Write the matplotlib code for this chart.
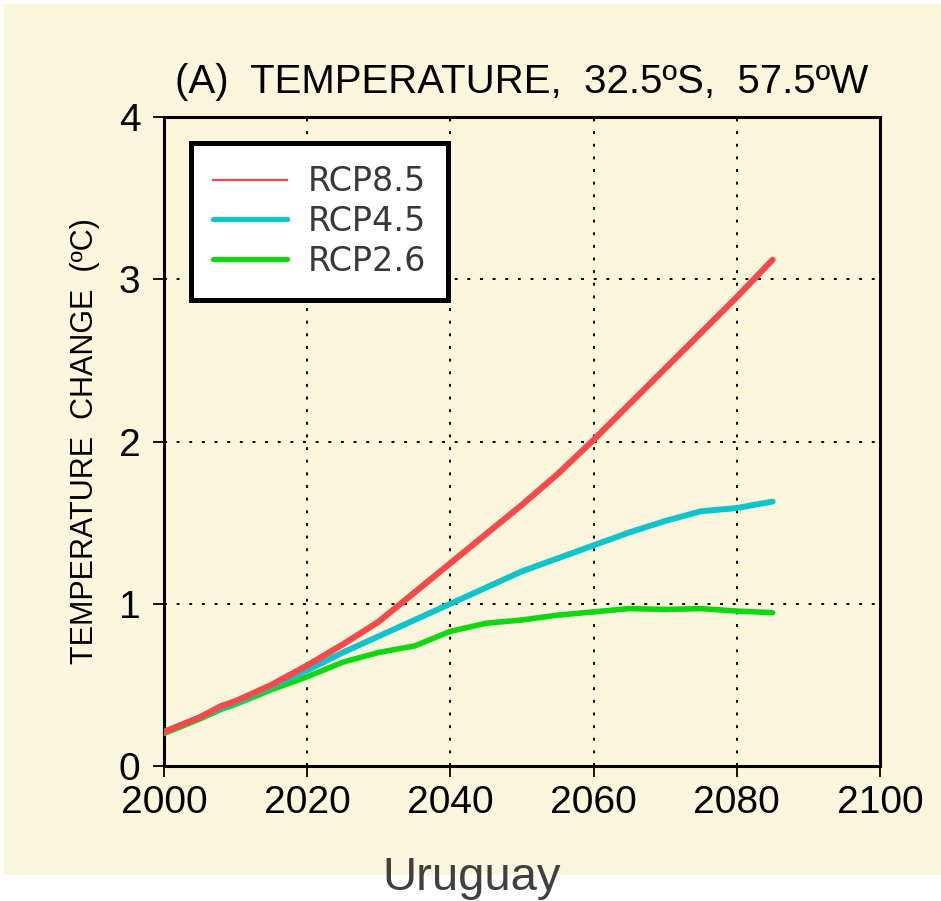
import matplotlib
matplotlib.use("Agg")
import matplotlib.pyplot as plt
from matplotlib.lines import Line2D
from matplotlib.patches import Rectangle

# ---------------- data ----------------
years = [2000, 2005, 2008, 2010, 2015, 2020, 2025, 2030, 2035, 2040,
         2045, 2050, 2055, 2060, 2065, 2070, 2075, 2080, 2085]
rcp85 = [0.21, 0.30, 0.37, 0.40, 0.50, 0.62, 0.75, 0.89, 1.07, 1.25,
         1.43, 1.61, 1.80, 2.01, 2.23, 2.45, 2.67, 2.89, 3.12]
rcp45 = [0.21, 0.30, 0.36, 0.39, 0.49, 0.59, 0.70, 0.80, 0.90, 1.00,
         1.10, 1.20, 1.28, 1.36, 1.44, 1.51, 1.57, 1.59, 1.63]
rcp26 = [0.20, 0.29, 0.35, 0.38, 0.47, 0.55, 0.64, 0.70, 0.74, 0.83,
         0.88, 0.90, 0.93, 0.95, 0.97, 0.965, 0.97, 0.955, 0.945]
series_labels = ["RCP8.5", "RCP4.5", "RCP2.6"]
x_ticks = [2000, 2020, 2040, 2060, 2080, 2100]
y_ticks = [0, 1, 2, 3, 4]
title = "(A)  TEMPERATURE,  32.5ºS,  57.5ºW"
ylabel = "TEMPERATURE  CHANGE  (ºC)"
caption = "Uruguay"

# ---------------- style ----------------
CREAM = "#FCF7DC"
RED = "#F84848"
CYAN = "#10C4CC"
GREEN = "#10D810"
FONT = "Liberation Sans"

W, H = 941, 901
fig = plt.figure(figsize=(W / 100, H / 100), dpi=100, facecolor="white")

# cream background panel
bg = Rectangle((4 / W, 1 - 875 / H), (W - 4) / W, (875 - 4) / H,
               transform=fig.transFigure, facecolor=CREAM,
               edgecolor="none", zorder=-10)
fig.add_artist(bg)

ax = fig.add_axes([164 / W, 1 - 766 / H, (880 - 164) / W, (766 - 117) / H])
ax.set_zorder(1)
ax.set_facecolor(CREAM)

ax.plot(years, rcp26, color=GREEN, lw=4.0, solid_capstyle="round", zorder=3)
ax.plot(years, rcp45, color=CYAN, lw=4.3, solid_capstyle="round", zorder=4)
ax.plot(years, rcp85, color=RED, lw=4.4, solid_capstyle="round", zorder=5)

ax.set_xlim(2000, 2100)
ax.set_ylim(0, 4)
ax.set_xticks(x_ticks)
ax.set_yticks(y_ticks)
ax.set_xticklabels([str(v) for v in x_ticks], fontfamily=FONT, fontsize=28)
ax.set_yticklabels([str(v) for v in y_ticks], fontfamily=FONT, fontsize=28)
ax.tick_params(axis="x", direction="out", length=8, width=1.3, pad=6, colors="black")
ax.tick_params(axis="y", direction="out", length=8, width=1.3, pad=9, colors="black")
for s in ax.spines.values():
    s.set_linewidth(2.2)
    s.set_color("black")

ax.grid(True, color="black", lw=1.4, linestyle=(0, (1.5, 5.0)), zorder=1)
ax.set_axisbelow(True)

# legend
handles = [Line2D([], [], color=RED, lw=1.6),
           Line2D([], [], color=CYAN, lw=3.8, solid_capstyle="round"),
           Line2D([], [], color=GREEN, lw=3.8, solid_capstyle="round")]
leg = ax.legend(handles, series_labels, loc="upper left",
                bbox_to_anchor=((191 - 164) / 716, (766 - 143) / 649),
                borderaxespad=0, frameon=True, fancybox=False,
                prop={"family": "DejaVu Sans", "size": 24},
                handlelength=2.22, handletextpad=0.6, labelspacing=0.2,
                borderpad=0.67)
leg.get_frame().set_edgecolor("black")
leg.get_frame().set_linewidth(3.6)
leg.get_frame().set_facecolor("white")
leg.get_frame().set_alpha(1)
for t in leg.get_texts():
    t.set_color("#383838")

# y label
ax.set_ylabel(ylabel, fontfamily=FONT, fontsize=22)
ax.yaxis.set_label_coords((85 - 164) / 716, 0.5)
ax.yaxis.label.set_va("center")

# title
fig.text(522 / W, 1 - 93 / H, title, ha="center", va="baseline",
         fontfamily=FONT, fontsize=29, color="black")

# caption
fig.text(472 / W, 1 - 890 / H, caption, ha="center", va="baseline",
         fontfamily=FONT, fontsize=34, color="#404040", zorder=5)

fig.savefig("out.png", dpi=100, facecolor="white")
